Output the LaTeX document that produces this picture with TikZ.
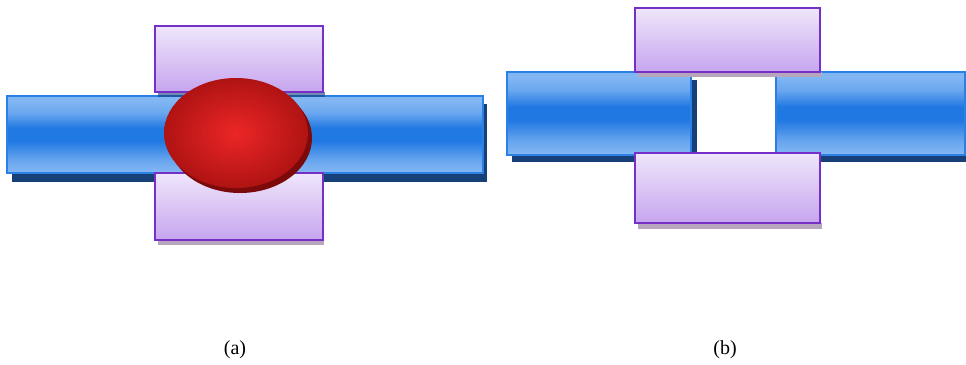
\documentclass[tikz,border=0pt]{standalone}
\usepackage{fontspec}
\newfontfamily\lblfont{Liberation Serif}
\definecolor{blueL}{HTML}{82B6F3}
\definecolor{blueD}{HTML}{2078E2}
\definecolor{blueB}{HTML}{2A80E4}
\definecolor{blueS}{HTML}{173F78}
\definecolor{purT}{HTML}{EFE6FB}
\definecolor{purB}{HTML}{C6A5EF}
\definecolor{purE}{HTML}{7630C8}
\definecolor{purS}{HTML}{B8A6BE}
\definecolor{redC}{HTML}{EC2626}
\definecolor{redO}{HTML}{B01313}
\definecolor{redS}{HTML}{7C0A0A}
\pgfdeclareverticalshading{barshade}{100bp}{color(0bp)=(blueL); color(26bp)=(blueL); color(34bp)=(blueL!70!blueD); color(46bp)=(blueD); color(54bp)=(blueD); color(64bp)=(blueL!75!blueD); color(72bp)=(blueL); color(100bp)=(blueL)}
\tikzset{
  bar/.style={shading=barshade, draw=blueB, line width=2pt},
  barshadow/.style={fill=blueS},
  padbox/.style={top color=purT, bottom color=purB, draw=purE, line width=2.2pt},
  padshadow/.style={fill=purS},
  ball/.style={inner color=redC, outer color=redO},
  ballshadow/.style={fill=redS},
  lbl/.style={font=\lblfont\fontsize{20}{22}\selectfont, inner sep=0pt}
}
\begin{document}
\begin{tikzpicture}[x=1pt,y=-1pt]
\useasboundingbox (0,0) rectangle (966,364);
\fill[white] (0,0) rectangle (966,364);
% ---------- panel (a) ----------
\fill[barshadow] (12,104) rectangle (487,182);
\shade[bar] (7,96) rectangle (483,173);
\fill[blueS, opacity=0.6] (158,92) rectangle (325,97);
\shade[padbox] (155,26) rectangle (323,92);
\fill[padshadow] (158,240) rectangle (324,245);
\shade[padbox] (155,173) rectangle (323,240);
\fill[ballshadow] (240,138) ellipse (72 and 55);
\shade[ball] (236,133) ellipse (72 and 55);
\node[lbl] (la) at (235,350) {(a)};
% ---------- panel (b) ----------
\fill[barshadow] (512,80) rectangle (697,162);
\fill[barshadow] (780,80) rectangle (966,162);
\shade[bar] (507,72) rectangle (691,155);
\shade[bar] (776,72) rectangle (965,155);
\fill[purS] (638,72) rectangle (822,77);
\shade[padbox] (635,8) rectangle (820,72);
\fill[padshadow] (638,223) rectangle (822,229);
\shade[padbox] (635,153) rectangle (820,223);
\node[lbl] (lb) at (725,350) {(b)};
\end{tikzpicture}
\end{document}
